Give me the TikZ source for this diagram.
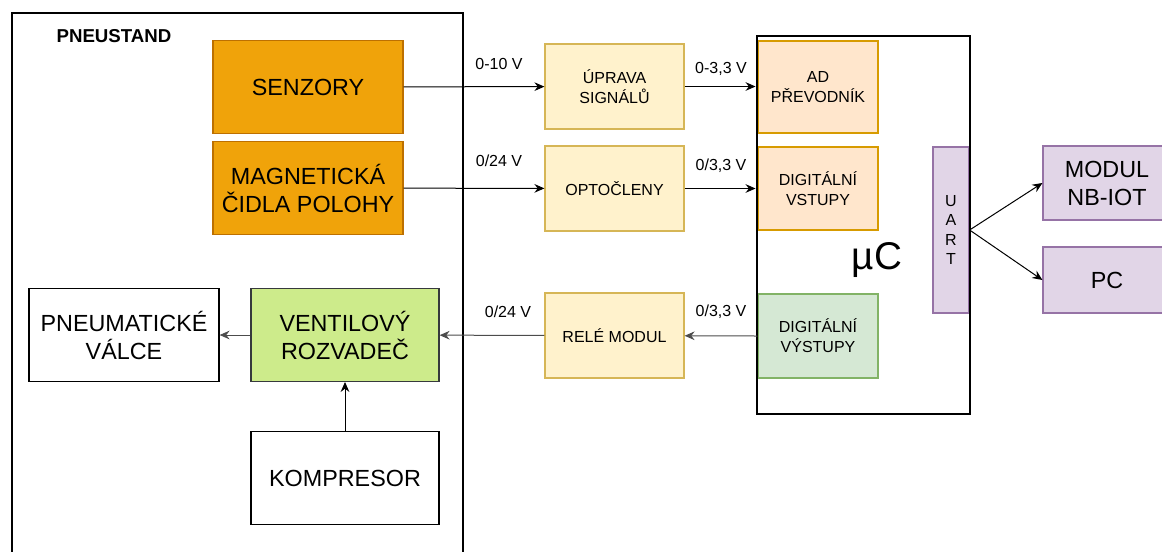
\documentclass[tikz,border=0pt]{standalone}
\usepackage{fontspec}
\setmainfont{Liberation Sans}
\usetikzlibrary{arrows.meta}
\usepackage{xcolor}

\definecolor{orangefill}{HTML}{F0A30A}
\definecolor{orangeline}{HTML}{BD7000}
\definecolor{yellowfill}{HTML}{FFF2CC}
\definecolor{yellowline}{HTML}{D6B656}
\definecolor{peachfill}{HTML}{FFE6CC}
\definecolor{peachline}{HTML}{D79B00}
\definecolor{greenfill}{HTML}{D5E8D4}
\definecolor{greenline}{HTML}{82B366}
\definecolor{limefill}{HTML}{CDEB8B}
\definecolor{limeline}{HTML}{36393D}
\definecolor{violetfill}{HTML}{E1D5E7}
\definecolor{violetline}{HTML}{9673A6}

\begin{document}
\begin{tikzpicture}[
    x=0.75pt, y=-0.75pt,
    box/.style={draw, rectangle, align=center, line width=0.9pt, inner sep=0pt},
    bigbox/.style={box, minimum width=142.5pt, minimum height=69.5pt, font=\fontsize{17.5}{21}\selectfont},
    midbox/.style={box, minimum width=104.25pt, minimum height=63.75pt, font=\fontsize{12}{15}\selectfont},
    ucbox/.style={box, minimum width=90pt, font=\fontsize{12}{15}\selectfont},
    lbl/.style={font=\fontsize{12}{15}\selectfont, inner sep=0pt},
    arrow/.style={-{Stealth[length=7.5pt, width=6.5pt, inset=2.5pt]}, line width=0.75pt},
    frame/.style={draw, line width=2.2pt}
]

\path[use as bounding box] (0,0) rectangle (1162,551);

% Pneustand
\draw[frame] (12,13) rectangle (463,600);
\node[font=\bfseries\fontsize{14}{16}\selectfont] (pneustand) at (114,36) {PNEUSTAND};

\node[bigbox, fill=orangefill, draw=orangeline] (senz) at (308,87) {SENZORY};
\node[bigbox, fill=orangefill, draw=orangeline] (magn) at (308,188) {MAGNETICKÁ\\ČIDLA POLOHY};
\node[bigbox, fill=white, draw=black] (valce) at (124,335) {PNEUMATICKÉ\\VÁLCE};
\node[bigbox, minimum width=141pt, fill=limefill, draw=limeline] (ventil) at (345,335) {VENTILOVÝ\\ROZVADEČ};
\node[bigbox, minimum width=141pt, fill=white, draw=black] (kompr) at (345,478) {KOMPRESOR};

% Prevodniky
\node[midbox, fill=yellowfill, draw=yellowline] (uprava) at (614.5,86.5) {ÚPRAVA\\SIGNÁLŮ};
\node[midbox, fill=yellowfill, draw=yellowline] (opto) at (614.5,188.5) {OPTOČLENY};
\node[midbox, fill=yellowfill, draw=yellowline] (rele) at (614.5,335.5) {RELÉ MODUL};

% Mikrokontroler
\node[ucbox, minimum height=69pt, fill=peachfill, draw=peachline] (ad) at (818,87) {AD\\PŘEVODNÍK};
\node[ucbox, minimum height=62.25pt, fill=peachfill, draw=peachline] (divst) at (818,188.5) {DIGITÁLNÍ\\VSTUPY};
\node[ucbox, minimum height=63pt, fill=greenfill, draw=greenline] (divyst) at (818,336) {DIGITÁLNÍ\\VÝSTUPY};
\node[box, minimum width=27pt, minimum height=124.5pt, fill=violetfill, draw=violetline,
      font=\fontsize{12}{14.4}\selectfont] (uart) at (951,230) {U\\A\\R\\T};
\node[frame, minimum width=159.75pt, minimum height=283.5pt, inner sep=0pt] (uc) at (863.5,225) {};
\node[font=\fontsize{29}{32}\selectfont] (uclabel) at (877,260) {µC};

% Periferie
\node[bigbox, minimum width=96pt, minimum height=55.5pt, fill=violetfill, draw=violetline] (nbiot) at (1107,183) {MODUL\\NB-IOT};
\node[bigbox, minimum width=96pt, minimum height=49.5pt, fill=violetfill, draw=violetline] (pc) at (1107,280) {PC};

% Popisky napeti
\node[lbl] (v1) at (499,64) {0-10 V};
\node[lbl] (v2) at (499,161) {0/24 V};
\node[lbl] (v3) at (721,69) {0-3,3 V};
\node[lbl] (v4) at (721,166) {0/3,3 V};
\node[lbl] (v5) at (721,312) {0/3,3 V};
\node[lbl] (v6) at (508,312) {0/24 V};

% Sipky
\draw[arrow] (senz) -- (uprava);
\draw[arrow] (magn) -- (opto);
\draw[arrow] (uprava) -- (uprava -| uc.west);
\draw[arrow] (opto) -- (opto -| uc.west);
\draw[arrow, draw=black!70] (divyst.west) -- (rele);
\draw[arrow, draw=black!70] (rele) -- (ventil);
\draw[arrow, draw=black!70] (ventil) -- (valce);
\draw[arrow] (kompr) -- (ventil);
\draw[arrow] (uart.east) -- (nbiot.west);
\draw[arrow] (uart.east) -- (pc.west);

\end{tikzpicture}
\end{document}
